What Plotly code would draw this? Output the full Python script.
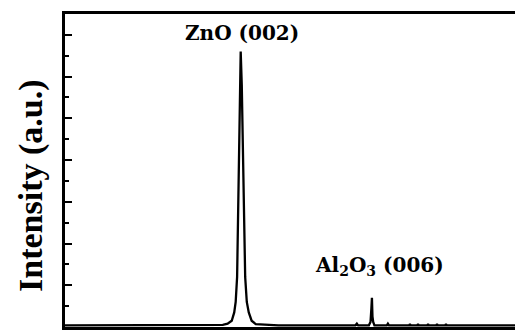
import plotly.graph_objects as go

# XRD profile (2theta in degrees, intensity in arbitrary units)
two_theta = [24.6, 30.0, 33.40, 33.67, 33.90, 34.04, 34.12, 34.20, 34.26, 34.34, 34.40,
             34.46, 34.54, 34.60, 34.65, 34.74, 34.85, 35.01, 35.24, 36.5, 38.5,
             40.80, 40.88, 40.95, 41.55, 41.64, 41.69, 41.72, 41.75, 41.79, 41.86,
             42.55, 42.61, 42.67, 43.80, 43.84, 43.88, 44.25, 44.29, 44.33,
             44.81, 44.85, 44.89, 45.31, 45.35, 45.39, 45.81, 45.85, 45.89, 47.5, 49.7]
intensity = [0.04, 0.04, 0.05, 0.08, 0.15, 0.35, 0.6, 1.2, 3.0, 5.5, 6.6,
             5.8, 4.2, 2.5, 1.2, 0.6, 0.35, 0.15, 0.07, 0.04, 0.04,
             0.04, 0.08, 0.04, 0.04, 0.12, 0.45, 0.70, 0.25, 0.12, 0.04,
             0.04, 0.08, 0.04, 0.04, 0.07, 0.04, 0.04, 0.07, 0.04,
             0.04, 0.07, 0.04, 0.04, 0.07, 0.04, 0.04, 0.07, 0.04, 0.04, 0.04]

peak_labels = ["ZnO (002)", "Al<sub>2</sub>O<sub>3</sub> (006)"]
label_x = [34.45, 42.14]
label_y = [7.05, 1.46]

x_range = [24.6, 49.7]
y_range = [0, 7.5]
y_title = "Intensity (a.u.)"

fig = go.Figure()
fig.add_trace(go.Scatter(x=two_theta, y=intensity, mode="lines",
                         line=dict(color="black", width=2.3),
                         showlegend=False, hoverinfo="skip"))

for t, lx, ly in zip(peak_labels, label_x, label_y):
    fig.add_annotation(x=lx, y=ly, xref="x", yref="y", text="<b>" + t + "</b>",
                       showarrow=False, xanchor="center", yanchor="middle",
                       font=dict(family="DejaVu Serif", size=20, color="black"))

fig.add_annotation(x=-0.0756, y=0.4537, xref="paper", yref="paper",
                   text="<b>" + y_title + "</b>", textangle=-90, showarrow=False,
                   xanchor="center", yanchor="middle",
                   font=dict(family="Liberation Serif", size=34, color="black"))

fig.update_xaxes(range=x_range, showline=True, mirror=True, linecolor="black",
                 linewidth=2.5, ticks="", showticklabels=False, showgrid=False,
                 zeroline=False)
fig.update_yaxes(range=y_range, showline=True, mirror=False, linecolor="black",
                 linewidth=2.5, ticks="inside", ticklen=7, tickwidth=2,
                 tickcolor="black", tickmode="linear", tick0=0, dtick=1,
                 minor=dict(ticks="inside", ticklen=4, tickwidth=2,
                            tickcolor="black", dtick=0.5, showgrid=False),
                 showticklabels=False, showgrid=False, zeroline=False)

fig.update_layout(width=515, height=333,
                  margin=dict(l=65, r=0, t=14, b=6),
                  paper_bgcolor="white", plot_bgcolor="white")

fig.write_html("out.html")
